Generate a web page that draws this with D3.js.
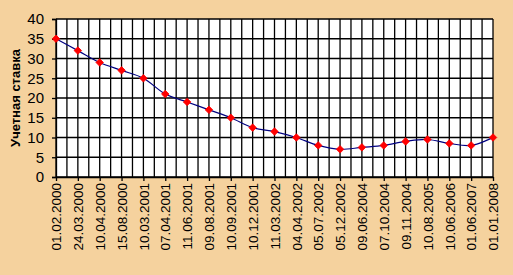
<!DOCTYPE html>
<html>
<head>
<meta charset="utf-8">
<script src="https://cdn.jsdelivr.net/npm/d3@7"></script>
<style>
  body { margin: 0; background: #f5d29e; }
  svg { display: block; }
  .tick text { font-family: Arial, "Liberation Sans", sans-serif; fill: #000; }
</style>
</head>
<body>
<div id="chart"></div>
<script>
// categories (dates) and rate values
const dates = ["01.02.2000", "24.03.2000", "10.04.2000", "15.08.2000", "10.03.2001",
  "07.04.2001", "11.06.2001", "09.08.2001", "10.09.2001", "10.12.2001",
  "11.03.2002", "04.04.2002", "05.07.2002", "05.12.2002", "09.06.2004",
  "07.10.2004", "09.11.2004", "10.08.2005", "10.06.2006", "01.06.2007", "01.01.2008"];
const rates = [35, 32, 29, 27, 25, 21, 19, 17, 15, 12.5, 11.5, 10, 8, 7, 7.5, 8, 9, 9.5, 8.5, 8, 10];
const yTicks = [0, 5, 10, 15, 20, 25, 30, 35, 40];

const width = 513, height = 275;
const margin = { top: 19, right: 20, bottom: 98, left: 56 };

const svg = d3.select("#chart").append("svg")
  .attr("width", width)
  .attr("height", height);

svg.append("rect")
  .attr("width", width)
  .attr("height", height)
  .attr("fill", "#f5d29e");

let x = d3.scalePoint()
  .domain(dates)
  .range([margin.left, width - margin.right]);

let y = d3.scaleLinear()
  .domain([0, 40])
  .range([height - margin.bottom, margin.top]);

// plot area
svg.append("rect")
  .attr("x", margin.left)
  .attr("y", margin.top)
  .attr("width", width - margin.right - margin.left)
  .attr("height", y(0) - margin.top)
  .attr("fill", "#fff");

// vertical gridlines at every half category
const half = x.step() / 2;
const vLines = d3.range(dates.length * 2 - 1).map(i => margin.left + i * half);
svg.append("g")
  .selectAll("line")
  .data(vLines)
  .enter()
  .append("line")
  .attr("x1", d => d).attr("x2", d => d)
  .attr("y1", margin.top).attr("y2", y(0))
  .attr("stroke", "#000")
  .attr("stroke-width", 1.3);

// horizontal gridlines
svg.append("g")
  .selectAll("line")
  .data(yTicks)
  .enter()
  .append("line")
  .attr("x1", margin.left).attr("x2", width - margin.right)
  .attr("y1", d => y(d)).attr("y2", d => y(d))
  .attr("stroke", "#000")
  .attr("stroke-width", 1.3);

let yAxis = d3.axisLeft(y)
  .tickValues(yTicks)
  .tickSize(4)
  .tickPadding(8);

svg.append("g")
  .attr("transform", `translate(${margin.left},0)`)
  .call(yAxis)
  .call(g => g.select(".domain").attr("stroke-width", 1.3))
  .call(g => g.selectAll(".tick line").attr("stroke-width", 1.3))
  .selectAll("text")
  .style("font-size", "15px");

let xAxis = d3.axisBottom(x)
  .tickSize(4)
  .tickSizeOuter(0);

svg.append("g")
  .attr("transform", `translate(0,${y(0)})`)
  .call(xAxis)
  .call(g => g.select(".domain").attr("stroke-width", 1.3))
  .call(g => g.selectAll(".tick line").attr("stroke-width", 1.3))
  .selectAll("text")
  .style("font-size", "13.5px")
  .attr("text-anchor", "end")
  .attr("transform", "rotate(-90)")
  .attr("x", -6)
  .attr("y", 0)
  .attr("dy", "0.35em");

// y title
svg.append("text")
  .attr("transform", `translate(20,${(margin.top + y(0)) / 2}) rotate(-90)`)
  .attr("text-anchor", "middle")
  .style("font-family", "Arial, 'Liberation Sans', sans-serif")
  .style("font-weight", "bold")
  .style("font-size", "13px")
  .text("Учетная ставка");

// smoothed line
const line = d3.line()
  .x((d, i) => x(dates[i]))
  .y(d => y(d))
  .curve(d3.curveCatmullRom.alpha(0.5));

svg.append("path")
  .datum(rates)
  .attr("d", line)
  .attr("fill", "none")
  .attr("stroke", "#000080")
  .attr("stroke-width", 1.2);

svg.selectAll("path.marker")
  .data(rates)
  .enter()
  .append("path")
  .attr("class", "marker")
  .attr("transform", (d, i) => `translate(${x(dates[i])},${y(d)})`)
  .attr("d", d3.symbol().type(d3.symbolDiamond2).size(36))
  .attr("fill", "#ff0000")
  .attr("stroke", "#ff0000")
  .attr("stroke-width", 0.8);
</script>
</body>
</html>
